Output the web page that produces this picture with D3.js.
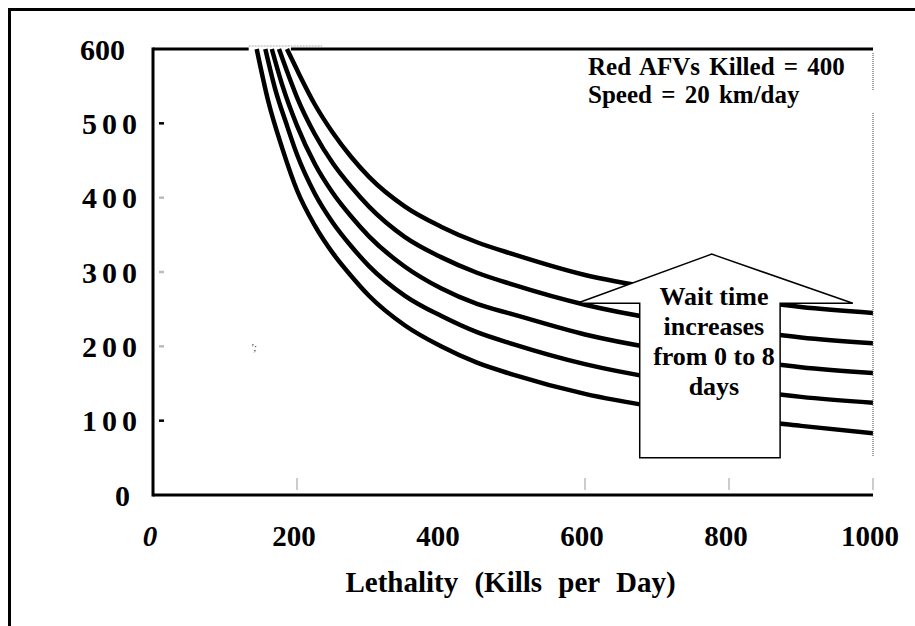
<!DOCTYPE html>
<html>
<head>
<meta charset="utf-8">
<script src="https://cdn.jsdelivr.net/npm/d3@7/dist/d3.min.js"></script>
<style>
  html, body { margin: 0; padding: 0; background: #fff; }
</style>
</head>
<body>
<svg id="chart" width="915" height="626"></svg>
<script>
// Wait time (days) for each curve, bottom to top
const waitDays = [0, 2, 4, 6, 8];

// Each curve as [lethality (kills/day), value] pairs; first pair is where it leaves the top (600)
const wait0 = [[144, 600], [160, 530], [180, 465], [200, 410], [225, 362], [250, 325], [275, 295], [300, 268],
  [350, 228], [400, 200], [450, 178], [500, 162], [600, 136], [700, 118], [800, 104], [900, 93], [1000, 83]];
const wait2 = [[156, 600], [170, 545], [185, 500], [200, 458], [225, 405], [250, 366], [275, 335], [300, 308],
  [350, 268], [400, 241], [450, 219], [500, 203], [600, 176], [700, 157], [800, 144], [900, 132], [1000, 124]];
const wait4 = [[165, 600], [180, 550], [200, 497], [225, 445], [250, 406], [275, 375], [300, 348],
  [350, 307], [400, 278], [450, 257], [500, 243], [600, 216], [700, 197], [800, 184], [900, 172], [1000, 164]];
const wait6 = [[175, 600], [190, 560], [200, 535], [225, 485], [250, 446], [275, 415], [300, 388],
  [350, 347], [400, 320], [450, 299], [500, 283], [600, 256], [700, 237], [800, 224], [900, 212], [1000, 204]];
const wait8 = [[186, 600], [200, 572], [225, 525], [250, 487], [275, 455], [300, 428],
  [350, 388], [400, 361], [450, 340], [500, 324], [600, 296], [700, 278], [800, 265], [900, 253], [1000, 245]];
const seriesValues = [wait0, wait2, wait4, wait6, wait8];

// Axis ticks
const xTicks = [0, 200, 400, 600, 800, 1000];
const yTicks = [0, 100, 200, 300, 400, 500, 600];

// Annotation text
const noteLines = ["Red AFVs Killed = 400", "Speed = 20 km/day"];
const arrowLines = ["Wait time", "increases", "from 0 to 8", "days"];
const xTitle = "Lethality (Kills per Day)";

// Arrow outline in data units: apex, head base, body
const arrowApex = [776, 324];
const arrowHead = { left: 589, right: 972, base: 258 };
const arrowBody = { left: 676, right: 871, bottom: 50 };

const FONT = "'Liberation Serif', 'Times New Roman', serif";

const svg = d3.select("#chart");
const plot = { left: 153, right: 873, top: 49, bottom: 495 };

const x = d3.scaleLinear().domain([0, 1000]).range([plot.left, plot.right]);
const y = d3.scaleLinear().domain([0, 600]).range([plot.bottom, plot.top]);

function label(sel) {
  return sel.style("font-family", FONT).attr("font-weight", "bold").attr("fill", "#000");
}

// Outer frame (top and left edges)
svg.append("line").attr("x1", 9.5).attr("x2", 915).attr("y1", 9.5).attr("y2", 9.5)
  .attr("stroke", "#000").attr("stroke-width", 3);
svg.append("line").attr("x1", 9.5).attr("x2", 9.5).attr("y1", 8).attr("y2", 626)
  .attr("stroke", "#000").attr("stroke-width", 3);

// Clip for the curves
svg.append("clipPath").attr("id", "plotClip").append("rect")
  .attr("x", plot.left).attr("y", plot.top - 4)
  .attr("width", plot.right - plot.left).attr("height", plot.bottom - plot.top + 4);

// Curves
const line = d3.line()
  .x(d => x(d[0]))
  .y(d => y(d[1]))
  .curve(d3.curveMonotoneX);

svg.append("g").attr("clip-path", "url(#plotClip)")
  .selectAll("path").data(seriesValues).join("path")
  .attr("d", line)
  .attr("fill", "none")
  .attr("stroke", "#000")
  .attr("stroke-width", 4.5)
  .attr("stroke-linejoin", "round");

// Top edge of the plot, broken where the curves enter
const firstEntry = wait0[0][0];
const lastEntry = wait8[0][0];
svg.append("line")
  .attr("x1", x(0)).attr("x2", x(firstEntry) - 8)
  .attr("y1", y(600)).attr("y2", y(600))
  .attr("stroke", "#000").attr("stroke-width", 3);
svg.append("line")
  .attr("x1", x(firstEntry) - 8).attr("x2", x(235))
  .attr("y1", y(600) - 3).attr("y2", y(600) - 3)
  .attr("stroke", "#aaa").attr("stroke-width", 1).attr("stroke-dasharray", "2,1");
svg.append("line")
  .attr("x1", x(lastEntry) + 4).attr("x2", x(1000))
  .attr("y1", y(600)).attr("y2", y(600))
  .attr("stroke", "#000").attr("stroke-width", 3);

// Right edge: dotted, with a gap beside the note
svg.append("line")
  .attr("x1", x(1000)).attr("x2", x(1000)).attr("y1", 53).attr("y2", 90)
  .attr("stroke", "#444").attr("stroke-width", 1).attr("stroke-dasharray", "1,1");
svg.append("line")
  .attr("x1", x(1000)).attr("x2", x(1000)).attr("y1", 113).attr("y2", 457)
  .attr("stroke", "#444").attr("stroke-width", 1).attr("stroke-dasharray", "1,1");

// Axis lines
svg.append("line").attr("x1", x(0)).attr("x2", x(0)).attr("y1", y(600) - 1.5).attr("y2", y(0) + 1.5)
  .attr("stroke", "#000").attr("stroke-width", 3);
svg.append("line").attr("x1", x(0)).attr("x2", x(1000)).attr("y1", y(0)).attr("y2", y(0))
  .attr("stroke", "#000").attr("stroke-width", 3);

// X tick marks (light, above the axis)
svg.append("g").selectAll("line").data(xTicks.filter(d => d !== 0 && d !== 400)).join("line")
  .attr("x1", d => x(d)).attr("x2", d => x(d))
  .attr("y1", y(0) - 17).attr("y2", y(0) - 5)
  .attr("stroke", "#999").attr("stroke-width", 1);

// Y tick dashes
svg.append("g").selectAll("line").data(yTicks.filter(d => d > 0 && d < 600)).join("line")
  .attr("x1", x(0) + 6).attr("x2", x(0) + 11)
  .attr("y1", d => y(d)).attr("y2", d => y(d))
  .attr("stroke", d => (d === 100 || d === 500) ? "#000" : "#bbb")
  .attr("stroke-width", 2.5);

// Y labels
svg.append("g").selectAll("text").data(yTicks).join("text")
  .call(label)
  .attr("x", d => d === 600 ? 125 : (d === 0 ? 135 : 142))
  .attr("y", d => y(d))
  .attr("dy", "0.35em")
  .attr("text-anchor", "end")
  .attr("letter-spacing", d => d === 600 ? 0 : 5)
  .attr("font-size", 30)
  .text(d => d);

// X labels
svg.append("g").selectAll("text").data(xTicks).join("text")
  .call(label)
  .attr("x", d => x(d) - 3)
  .attr("y", 546)
  .attr("text-anchor", "middle")
  .attr("font-size", 29)
  .attr("font-style", d => d === 0 ? "italic" : "normal")
  .text(d => d);

// X title
svg.append("text")
  .call(label)
  .attr("x", 510.5).attr("y", 592)
  .attr("text-anchor", "middle")
  .attr("font-size", 29)
  .attr("word-spacing", 9)
  .text(xTitle);

// Stray speck left of the curves
svg.append("text")
  .style("font-family", FONT)
  .attr("x", 251).attr("y", 351)
  .attr("font-size", 11)
  .attr("font-style", "italic")
  .attr("fill", "#333")
  .text("';");

// Note in the top right corner
svg.append("g").selectAll("text").data(noteLines).join("text")
  .call(label)
  .attr("x", 588).attr("y", (d, i) => 75 + i * 28)
  .attr("word-spacing", 3)
  .attr("font-size", 25)
  .text(d => d);

// Arrow
const arrowPts = [
  [arrowBody.left, arrowBody.bottom],
  [arrowBody.left, arrowHead.base],
  [arrowHead.left, arrowHead.base],
  arrowApex,
  [arrowHead.right, arrowHead.base],
  [arrowBody.right, arrowHead.base],
  [arrowBody.right, arrowBody.bottom]
];
svg.append("path")
  .attr("d", d3.line().x(d => x(d[0])).y(d => y(d[1])).curve(d3.curveLinearClosed)(arrowPts))
  .attr("fill", "#fff")
  .attr("stroke", "#000")
  .attr("stroke-width", 1.5)
  .attr("stroke-linejoin", "miter");

const arrowCx = (x(arrowBody.left) + x(arrowBody.right)) / 2 + 4;
svg.append("g").selectAll("text").data(arrowLines).join("text")
  .call(label)
  .attr("x", arrowCx)
  .attr("y", (d, i) => 305 + i * 30)
  .attr("text-anchor", "middle")
  .attr("font-size", 26)
  .text(d => d);
</script>
</body>
</html>
